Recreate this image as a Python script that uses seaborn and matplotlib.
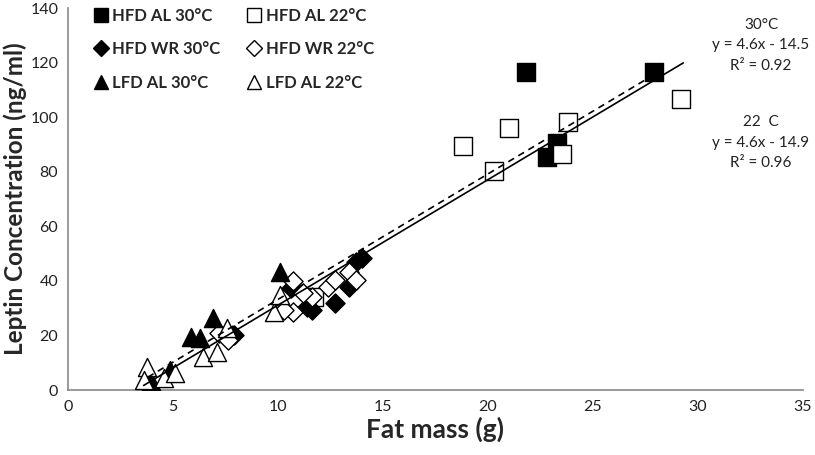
import numpy as np
import pandas as pd
import matplotlib
matplotlib.use("Agg")
import matplotlib.pyplot as plt
from matplotlib.lines import Line2D
import seaborn as sns

# ---- data ----
hfd_al_30_x = [21.8, 27.9, 23.3, 22.8]
hfd_al_30_y = [116.5, 116.5, 90.5, 85.4]

hfd_al_22_x = [18.8, 21.0, 23.8, 23.5, 20.3, 29.2, 11.7]
hfd_al_22_y = [89.5, 96.0, 98.3, 86.5, 80.3, 106.6, 34.0]

hfd_wr_30_x = [14.0, 13.7, 13.4, 12.7, 11.6, 11.4, 10.6, 7.9]
hfd_wr_30_y = [48.3, 47.0, 37.8, 31.8, 29.3, 30.5, 37.4, 20.0]

hfd_wr_22_x = [10.7, 10.7, 10.3, 11.6, 12.4, 12.7, 13.4, 13.7, 7.2, 7.6, 11.2]
hfd_wr_22_y = [40.0, 28.6, 29.3, 34.0, 37.8, 40.3, 43.3, 40.3, 20.8, 18.3, 35.5]

lfd_al_30_x = [10.1, 6.9, 5.85, 6.3, 3.95, 4.85]
lfd_al_30_y = [43.3, 26.4, 19.4, 19.0, 3.2, 7.5]

lfd_al_22_x = [3.75, 3.6, 4.55, 5.1, 6.45, 7.1, 7.55, 9.8, 10.1]
lfd_al_22_y = [8.5, 3.7, 4.4, 6.2, 12.2, 14.0, 22.7, 28.7, 34.8]

# trend lines (slope, intercept, x range)
fit_30 = [4.6, -12.8, 3.8, 28.0]
fit_22 = [4.6, -14.9, 3.6, 29.3]

x_ticks = [0, 5, 10, 15, 20, 25, 30, 35]
y_ticks = [0, 20, 40, 60, 80, 100, 120, 140]

sns.set_style("white")
plt.rcParams['font.family'] = ['Lato', 'DejaVu Sans']

fig = plt.figure(figsize=(8.15, 4.55), dpi=100)
ax = fig.add_axes([68 / 815, 65 / 455, 735 / 815, 382 / 455])

groups = [
    ("HFD AL 30°C", hfd_al_30_x, hfd_al_30_y, "s", "black", 150),
    ("HFD AL 22°C", hfd_al_22_x, hfd_al_22_y, "s", "white", 150),
    ("HFD WR 30°C", hfd_wr_30_x, hfd_wr_30_y, "D", "black", 95),
    ("HFD WR 22°C", hfd_wr_22_x, hfd_wr_22_y, "D", "white", 95),
    ("LFD AL 30°C", lfd_al_30_x, lfd_al_30_y, "^", "black", 170),
    ("LFD AL 22°C", lfd_al_22_x, lfd_al_22_y, "^", "white", 170),
]

for name, gx, gy, mk, fc, sz in groups:
    df = pd.DataFrame({"x": gx, "y": gy})
    sns.scatterplot(data=df, x="x", y="y", marker=mk, s=sz, color=fc,
                    edgecolor="black", linewidth=1.0, ax=ax, zorder=3, legend=False)

for (m, b, x0, x1), ls in [(fit_22, "-"), (fit_30, (0, (4, 3)))]:
    lx = np.array([x0, x1])
    sns.lineplot(x=lx, y=m * lx + b, color="black", linestyle=ls, linewidth=1.2,
                 ax=ax, zorder=4)

ax.set_xlim(0, 35)
ax.set_ylim(0, 140)
ax.set_xticks(x_ticks)
ax.set_yticks(y_ticks)
ax.tick_params(axis="both", direction="out", length=4, width=1, color="#888888",
               labelsize=11.5, labelcolor="#222222", pad=3)
for side in ["top", "right"]:
    ax.spines[side].set_visible(False)
for side in ["left", "bottom"]:
    ax.spines[side].set_color("#888888")
    ax.spines[side].set_linewidth(1.2)

ax.set_xlabel("Fat mass (g)", fontsize=19, fontweight="bold", labelpad=2)
ax.set_ylabel("Leptin Concentration (ng/ml)", fontsize=17.5, fontweight="bold", labelpad=2)

# legend
handles = []
for name, gx, gy, mk, fc, sz in groups:
    handles.append(Line2D([], [], linestyle="none", marker=mk, markersize=10 if mk != "D" else 8,
                          markerfacecolor=fc, markeredgecolor="black", label=name))
order = [0, 2, 4, 1, 3, 5]
ax.legend([handles[i] for i in order], [groups[i][0] for i in order],
          ncol=2, loc="upper left", bbox_to_anchor=(0.015, 1.04), frameon=False,
          prop={"weight": "bold", "size": 12}, handlelength=0.8, handletextpad=0.3,
          labelspacing=1.05, columnspacing=1.6)

# equations
eq_x = 761
for lines, y0 in [(["30°C", "y = 4.6x - 14.5", "R² = 0.92"], 25),
                  (["22  C", "y = 4.6x - 14.9", "R² = 0.96"], 122)]:
    for i, t in enumerate(lines):
        fig.text(eq_x / 815, 1 - (y0 + 20.5 * i) / 455, t, ha="center", va="center",
                 fontsize=11, color="#222222")

fig.savefig("out.png", dpi=100)
